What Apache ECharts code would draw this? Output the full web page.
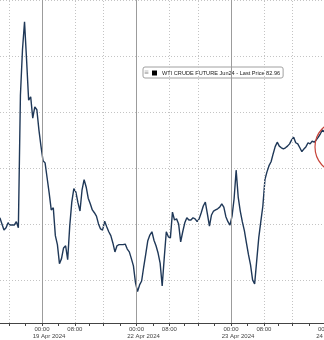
<!DOCTYPE html>
<html>
<head>
<meta charset="utf-8">
<script src="https://cdn.jsdelivr.net/npm/echarts@6/dist/echarts.min.js"></script>
<style>
html,body{margin:0;padding:0;background:#fff;}
#chart{width:324px;height:340px;}
</style>
</head>
<body>
<div id="chart"></div>
<script>
// ---- data (trading hours counted from 00:00 19 Apr 2024; weekend / daily breaks compressed) ----
const SERIES_NAME = 'WTI CRUDE FUTURE Jun24';
const LAST_PRICE = '82.96';
const START_HOUR = -10.25;      // first sample
const SAMPLE_STEP = 0.5;        // 30-minute samples
const prices = [
  82.11,82.00,81.89,81.93,82.02,81.98,81.98,81.98,82.04,81.93,
  84.30,85.11,85.61,84.93,84.21,84.27,83.89,84.09,84.04,83.68,
  83.39,83.13,83.09,82.82,82.55,82.25,82.29,81.79,81.63,81.29,
  81.38,81.57,81.61,81.36,81.96,82.39,82.63,82.57,82.38,82.23,
  82.61,82.79,82.66,82.46,82.36,82.25,82.20,82.14,82.00,81.91,
  81.89,82.05,81.95,81.86,81.79,81.66,81.50,81.61,81.63,81.63,
  81.63,81.64,81.55,81.50,81.38,81.25,80.95,80.79,80.91,80.98,
  81.23,81.46,81.70,81.80,81.86,81.71,81.61,81.48,81.30,80.89,
  81.39,81.86,81.77,81.75,82.21,82.07,82.09,82.00,81.68,81.86,
  82.02,82.11,82.07,82.07,82.11,82.09,82.04,82.09,82.20,82.32,
  82.39,82.18,81.96,82.16,82.23,82.25,82.27,82.30,82.36,82.30,
  82.13,82.04,81.98,82.14,82.45,82.96,82.48,82.23,82.04,81.88,
  81.66,81.45,81.27,81.00,80.93,81.34,81.75,82.04,82.32,82.79,
  82.93,83.04,83.11,83.25,83.38,83.46,83.39,83.36,83.34,83.36,
  83.39,83.43,83.50,83.55,83.45,83.43,83.36,83.29,83.34,83.38,
  83.45,83.43,83.48,83.46,83.50,83.55,83.61,83.68,83.64
];
const tickHours = [-8,-4,0,4,8,11.5,15,19,23,27,31,34.5,38,42,46,50,54,57.5,61,65,69];
const labelHours = [0, 8, 23, 31, 46, 54, 69];
const labelTimes = ['00:00','08:00','00:00','08:00','00:00','08:00','00:00'];
const labelDates = ['19 Apr 2024','','22 Apr 2024','','23 Apr 2024','','24 Apr 2024'];
const dayStartHours = [0, 23, 46, 69];
const intradayLineHours = [-8, 8, 15, 31, 38, 54, 61];
const X_MIN = -10.22, X_MAX = 71.55;
const Y_MIN = 80.23, Y_MAX = 86;

const lineData = prices.map((p, i) => [START_HOUR + i * SAMPLE_STEP, p]);

const vLines = dayStartHours.map(h => ({xAxis: h, lineStyle: {color: '#9c9c9c', width: 1, type: 'solid'}}))
  .concat(intradayLineHours.map(h => ({xAxis: h, lineStyle: {color: '#c4c4c4', width: 1, type: [1, 2]}})));

const chart = echarts.init(document.getElementById('chart'), null, {renderer: 'canvas'});
chart.setOption({
  animation: false,
  backgroundColor: '#ffffff',
  grid: {left: 0, right: -12, top: 0, bottom: 17, containLabel: false, outerBoundsMode: 'none'},
  legend: {
    left: 143, top: 67,
    data: [{name: SERIES_NAME, icon: 'rect', itemStyle: {color: '#000'}}],
    formatter: n => n + ' - Last Price ' + LAST_PRICE,
    itemWidth: 5, itemHeight: 5,
    padding: [3, 3, 2, 9],
    backgroundColor: '#ffffff',
    borderColor: '#a0a0a0', borderWidth: 1, borderRadius: 2,
    textStyle: {fontSize: 5.6, fontFamily: 'Liberation Sans', color: '#222'}
  },
  graphic: [
    {type: 'text', left: 144, top: 69, z: 100, style: {text: '\u2261', fontSize: 6, fill: '#888', fontFamily: 'DejaVu Sans'}},
    {type: 'circle', x: 338, y: 147, scaleX: 0.92, z: 100,
     shape: {cx: 0, cy: 0, r: 25},
     style: {fill: 'none', stroke: '#c8443a', lineWidth: 1.3}}
  ],
  xAxis: {
    type: 'value', min: X_MIN, max: X_MAX,
    axisLine: {show: true, lineStyle: {color: '#444', width: 1}},
    axisTick: {show: true, customValues: tickHours, length: 3, lineStyle: {color: '#444'}},
    splitLine: {show: false},
    axisLabel: {
      customValues: labelHours, margin: 3, showMinLabel: true, showMaxLabel: true, hideOverlap: false,
      color: '#444', fontFamily: 'Liberation Sans', fontSize: 6,
      formatter: function (v) {
        const k = labelHours.indexOf(v);
        if (k < 0) return '';
        return labelDates[k] ? '{t|' + labelTimes[k] + '}\n{d|' + labelDates[k] + '}' : '{t|' + labelTimes[k] + '}';
      },
      rich: {
        t: {fontSize: 6, lineHeight: 7, fontFamily: 'Liberation Sans', color: '#444'},
        d: {fontSize: 6, lineHeight: 7, fontFamily: 'Liberation Sans', color: '#444', padding: [0, 0, 0, 14]}
      }
    }
  },
  yAxis: {
    type: 'value', min: Y_MIN, max: Y_MAX, position: 'right',
    axisLine: {show: false}, axisTick: {show: false}, axisLabel: {show: false},
    splitLine: {show: true, showMinLine: false, lineStyle: {color: '#c4c4c4', width: 1, type: [1, 2]}}
  },
  series: [
    {
      name: 'gridlines', type: 'line', data: [], z: 1, silent: true,
      markLine: {silent: true, symbol: ['none', 'none'], label: {show: false}, animation: false, data: vLines}
    },
    {
      name: SERIES_NAME, type: 'line', data: lineData, z: 3,
      showSymbol: false, symbol: 'none',
      lineStyle: {color: '#1f3858', width: 1.4},
      itemStyle: {color: '#000'}
    }
  ]
});
</script>
</body>
</html>
